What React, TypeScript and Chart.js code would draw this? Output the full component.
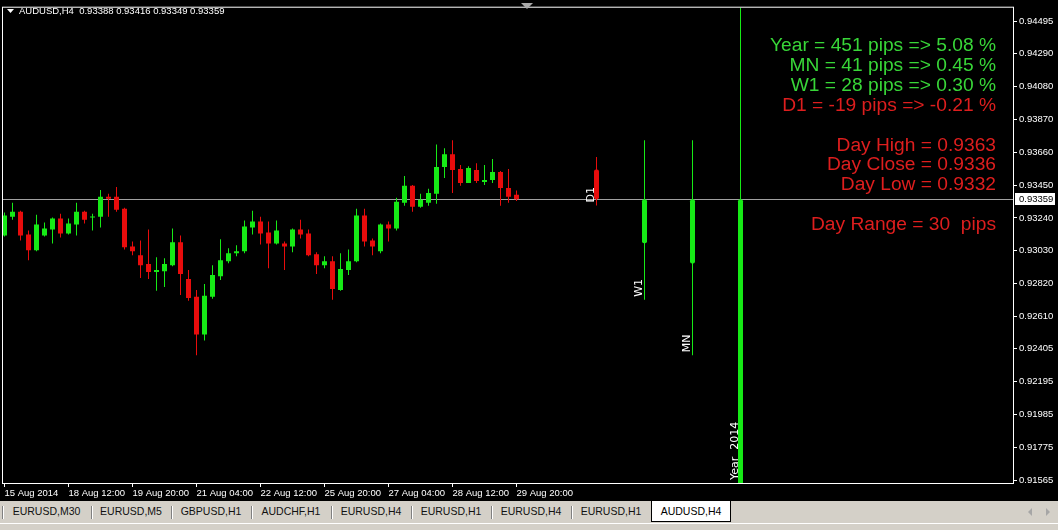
import React, { useEffect, useRef } from "react";
import { Chart, registerables } from "chart.js";

Chart.register(...registerables);

const GREEN = "rgb(22,234,22)";
const RED = "rgb(232,12,12)";
const TEXT_GREEN = "rgb(56,214,56)";
const TEXT_RED = "rgb(222,30,30)";

// AUDUSD H4 bars, 15 Aug 04:00 .. 29 Aug 20:00
const opens = [
  0.93128, 0.93248, 0.9328, 0.93134, 0.93033, 0.93128, 0.93166, 0.93236, 0.93141, 0.93198,
  0.9328, 0.93242, 0.93248, 0.93375, 0.93375, 0.93299, 0.93058, 0.93001, 0.92945, 0.92894,
  0.929, 0.92938, 0.93084, 0.9285, 0.92736, 0.92495, 0.92736, 0.92868, 0.92963, 0.93014,
  0.93027, 0.93179, 0.93217, 0.93147, 0.93077, 0.93077, 0.93058, 0.93166, 0.93141, 0.93008,
  0.92938, 0.92963, 0.9278, 0.92907, 0.92963, 0.93255, 0.93096, 0.93027, 0.93198, 0.93172,
  0.93337, 0.93445, 0.93312, 0.93337, 0.93394, 0.93565, 0.93647, 0.93552, 0.93464, 0.93546,
  0.9347, 0.93483, 0.93533, 0.93432, 0.93388,
];
const highs = [
  0.93274, 0.93337, 0.93286, 0.9316, 0.93261, 0.93211, 0.93242, 0.93267, 0.93236, 0.93337,
  0.93286, 0.93267, 0.93419, 0.93394, 0.93438, 0.93305, 0.9309, 0.93096, 0.93166, 0.92989,
  0.92982, 0.93172, 0.93128, 0.92907, 0.9278, 0.92818, 0.92938, 0.93103, 0.93046, 0.93065,
  0.93223, 0.93286, 0.93248, 0.93217, 0.93223, 0.9309, 0.93172, 0.93229, 0.93166, 0.93021,
  0.92995, 0.92995, 0.93014, 0.93039, 0.93299, 0.93299, 0.93109, 0.93204, 0.93217, 0.93369,
  0.93508, 0.93451, 0.93394, 0.93426, 0.9371, 0.93685, 0.93736, 0.93578, 0.93571, 0.9359,
  0.93578, 0.93616, 0.9354, 0.93552, 0.93416,
];
const lows = [
  0.93122, 0.93229, 0.93096, 0.9297, 0.93027, 0.93122, 0.93077, 0.93115, 0.93134, 0.93128,
  0.93204, 0.9316, 0.93179, 0.93248, 0.9328, 0.93039, 0.93001, 0.92856, 0.9285, 0.92774,
  0.92799, 0.92932, 0.92748, 0.9271, 0.92362, 0.92457, 0.92723, 0.92843, 0.92951, 0.92995,
  0.93014, 0.93134, 0.93071, 0.92919, 0.93071, 0.92907, 0.93021, 0.93109, 0.92995, 0.92881,
  0.92919, 0.92717, 0.92774, 0.92875, 0.92957, 0.93058, 0.93001, 0.93014, 0.9309, 0.9316,
  0.93318, 0.9328, 0.93305, 0.93318, 0.93331, 0.93495, 0.934, 0.93445, 0.93464, 0.93464,
  0.93451, 0.93464, 0.93318, 0.93337, 0.93349,
];
const closes = [
  0.93255, 0.9328, 0.93128, 0.93033, 0.93198, 0.93172, 0.93236, 0.93141, 0.93204, 0.9328,
  0.93229, 0.93248, 0.93375, 0.93362, 0.93293, 0.93052, 0.93027, 0.92938, 0.92894, 0.92907,
  0.92945, 0.93084, 0.92881, 0.92729, 0.92495, 0.92742, 0.92875, 0.9297, 0.93014, 0.93027,
  0.93185, 0.93217, 0.93141, 0.93077, 0.9316, 0.93058, 0.93166, 0.93134, 0.93001, 0.92938,
  0.92963, 0.92786, 0.92913, 0.92963, 0.93255, 0.9309, 0.93058, 0.93198, 0.93172, 0.93343,
  0.93445, 0.93312, 0.93356, 0.934, 0.93565, 0.93647, 0.93546, 0.93464, 0.93559, 0.93476,
  0.93483, 0.93533, 0.93432, 0.93375, 0.93359,
];

// period candles drawn by the indicator to the right of the price bars
const periodNames = ["D1", "W1", "MN", "Year  2014"];
const periodIndex = [74, 80, 86, 92];
const periodOpen = [0.93549, 0.93079, 0.92949, 0.88849];
const periodHigh = [0.9363, 0.93736, 0.93736, 0.9505];
const periodLow = [0.9332, 0.92717, 0.92362, 0.866];
const periodClose = [0.93359, 0.93359, 0.93359, 0.93359];

const timeTickIndex = [0, 8, 16, 24, 32, 40, 48, 56, 64];
const timeTickLabels = [
  "15 Aug 2014", "18 Aug 12:00", "19 Aug 20:00", "21 Aug 04:00", "22 Aug 12:00",
  "25 Aug 20:00", "27 Aug 04:00", "28 Aug 12:00", "29 Aug 20:00",
];
const priceTicks = [
  0.94495, 0.9429, 0.9408, 0.9387, 0.9366, 0.9345, 0.9324, 0.9303, 0.9282, 0.9261,
  0.92405, 0.92195, 0.91985, 0.91775, 0.91565,
];

const infoLines = [
  "Year = 451 pips => 5.08 %", "MN = 41 pips => 0.45 %", "W1 = 28 pips => 0.30 %",
  "D1 = -19 pips => -0.21 %", "", "Day High = 0.9363", "Day Close = 0.9336",
  "Day Low = 0.9332", "", "Day Range = 30  pips",
];
const infoColors = [
  TEXT_GREEN, TEXT_GREEN, TEXT_GREEN, TEXT_RED, TEXT_RED, TEXT_RED, TEXT_RED,
  TEXT_RED, TEXT_RED, TEXT_RED,
];

const tabNames = [
  "EURUSD,M30", "EURUSD,M5", "GBPUSD,H1", "AUDCHF,H1", "EURUSD,H4", "EURUSD,H1",
  "EURUSD,H4", "EURUSD,H1",
];
const activeTab = "AUDUSD,H4";

const X_MIN = -0.1875;
const X_MAX = 126.0625;
const Y_MIN = 0.91546;
const Y_MAX = 0.945836;
const AXIS_FONT = "'Liberation Sans', Arial, sans-serif";

const candleColor = (o: number[], c: number[]) =>
  o.map((v, i) => (c[i] >= v ? GREEN : RED));

const overlay = {
  id: "overlay",
  beforeDatasetsDraw(chart: any) {
    const { ctx, chartArea: a, scales } = chart;
    const bid = closes[closes.length - 1];
    const py = Math.round(scales.y.getPixelForValue(bid)) + 0.5;
    ctx.save();
    ctx.strokeStyle = "#a0a0a0";
    ctx.lineWidth = 1;
    ctx.beginPath();
    ctx.moveTo(a.left, py);
    ctx.lineTo(a.right, py);
    ctx.stroke();
    ctx.restore();
  },
  afterDatasetsDraw(chart: any) {
    const { ctx, chartArea: a, scales } = chart;
    ctx.save();
    // period labels, written upwards next to each candle
    ctx.fillStyle = "#fff";
    ctx.font = "11px 'DejaVu Sans', sans-serif";
    ctx.textAlign = "left";
    ctx.textBaseline = "alphabetic";
    periodNames.forEach((name, i) => {
      const cx = scales.x.getPixelForValue(periodIndex[i]);
      const ly = Math.min(scales.y.getPixelForValue(periodLow[i]) - 3, a.bottom - 3);
      ctx.save();
      ctx.translate(cx - 2.5, ly);
      ctx.rotate(-Math.PI / 2);
      ctx.fillText(name, 0, 0);
      ctx.restore();
    });
    // statistics panel
    ctx.font = "19.2px 'Liberation Sans', Arial, sans-serif";
    ctx.textAlign = "right";
    infoLines.forEach((line, i) => {
      if (!line) return;
      ctx.fillStyle = infoColors[i];
      ctx.fillText(line, 996, 51 + i * 19.9);
    });
    ctx.restore();
  },
  afterDraw(chart: any) {
    const { ctx, chartArea: a, scales } = chart;
    ctx.save();
    ctx.strokeStyle = "#fff";
    ctx.lineWidth = 1;
    ctx.strokeRect(a.left - 0.5, a.top - 0.5, a.right - a.left + 1, a.bottom - a.top + 1);

    // chart shift marker
    ctx.fillStyle = "#a8a8a8";
    ctx.beginPath();
    ctx.moveTo(521, 3);
    ctx.lineTo(533, 3);
    ctx.lineTo(527, 9);
    ctx.closePath();
    ctx.fill();

    // header
    const last = closes.length - 1;
    ctx.fillStyle = "#fff";
    ctx.beginPath();
    ctx.moveTo(7, 9);
    ctx.lineTo(14, 9);
    ctx.lineTo(10.5, 13);
    ctx.closePath();
    ctx.fill();
    ctx.font = `9.5px ${AXIS_FONT}`;
    ctx.textAlign = "left";
    ctx.textBaseline = "alphabetic";
    ctx.fillText(
      `AUDUSD,H4  ${opens[last].toFixed(5)} ${highs[last].toFixed(5)} ${lows[last].toFixed(5)} ${closes[last].toFixed(5)}`,
      19,
      14
    );

    // current price box on the price axis
    const py = Math.round(scales.y.getPixelForValue(closes[last]));
    ctx.fillStyle = "#fff";
    ctx.fillRect(a.right + 2, py - 6, 40, 12);
    ctx.fillStyle = "#000";
    ctx.textBaseline = "middle";
    ctx.fillText(closes[last].toFixed(5), a.right + 6, py + 0.5);
    ctx.restore();
  },
};

export default function App() {
  const canvasRef = useRef<HTMLCanvasElement>(null);
  const chartRef = useRef<Chart>();

  useEffect(() => {
    if (!canvasRef.current) return;
    if (chartRef.current) chartRef.current.destroy();

    const idx = opens.map((_, i) => i);
    const candleColors = candleColor(opens, closes);
    const periodColors = candleColor(periodOpen, periodClose);
    const barBase = {
      grouped: false,
      categoryPercentage: 1,
      barPercentage: 1,
      inflateAmount: 0,
      borderWidth: 0,
    };

    chartRef.current = new Chart(canvasRef.current, {
      type: "bar",
      data: {
        datasets: [
          {
            ...barBase,
            order: 0,
            data: idx.map((i) => ({ x: i, y: [opens[i], closes[i]] })) as any,
            backgroundColor: candleColors,
            barThickness: 5,
            maxBarThickness: 5,
            minBarLength: 1,
          },
          {
            ...barBase,
            order: 1,
            data: idx.map((i) => ({ x: i, y: [lows[i], highs[i]] })) as any,
            backgroundColor: candleColors,
            barThickness: 1,
            maxBarThickness: 1,
          },
          {
            ...barBase,
            order: 0,
            data: periodIndex.map((p, i) => ({ x: p, y: [periodOpen[i], periodClose[i]] })) as any,
            backgroundColor: periodColors,
            barThickness: 5,
            maxBarThickness: 5,
            borderRadius: 2,
            borderSkipped: false,
          },
          {
            ...barBase,
            order: 1,
            data: periodIndex.map((p, i) => ({ x: p, y: [periodLow[i], periodHigh[i]] })) as any,
            backgroundColor: periodColors,
            barThickness: 1,
            maxBarThickness: 1,
          },
        ],
      },
      options: {
        animation: false,
        responsive: false,
        events: [],
        layout: { padding: { left: 3, top: 3, right: 0, bottom: 0 } },
        plugins: { legend: { display: false }, tooltip: { enabled: false } },
        scales: {
          x: {
            type: "linear",
            min: X_MIN,
            max: X_MAX,
            offset: false,
            afterBuildTicks: (s: any) => {
              s.ticks = timeTickIndex.map((value) => ({ value }));
            },
            afterFit: (s: any) => {
              s.height = 18;
            },
            border: { display: false },
            grid: {
              display: true,
              drawOnChartArea: false,
              drawTicks: true,
              tickLength: 4,
              color: "#fff",
              offset: false,
            },
            ticks: {
              color: "#fff",
              font: { family: AXIS_FONT, size: 9.5 },
              align: "start",
              maxRotation: 0,
              autoSkip: false,
              padding: 1,
              callback: (v: any) => {
                const k = timeTickIndex.indexOf(Number(v));
                return k >= 0 ? timeTickLabels[k] : "";
              },
            },
          },
          y: {
            type: "linear",
            position: "right",
            min: Y_MIN,
            max: Y_MAX,
            afterBuildTicks: (s: any) => {
              s.ticks = priceTicks.map((value) => ({ value }));
            },
            afterFit: (s: any) => {
              s.width = 45;
            },
            border: { display: false },
            grid: {
              display: true,
              drawOnChartArea: false,
              drawTicks: true,
              tickLength: 4,
              color: "#fff",
            },
            ticks: {
              color: "#fff",
              font: { family: AXIS_FONT, size: 9.5 },
              padding: 2,
              autoSkip: false,
              callback: (v: any) => Number(v).toFixed(5),
            },
          },
        },
      } as any,
      plugins: [overlay],
    });

    return () => {
      if (chartRef.current) {
        chartRef.current.destroy();
        chartRef.current = undefined;
      }
    };
  }, []);

  return (
    <div style={styles.page}>
      <canvas ref={canvasRef} width={1058} height={501} style={{ display: "block" }} />
      <div style={styles.tabBar}>
        {tabNames.map((name, i) => (
          <div key={i} style={{ ...styles.tab, width: i === 0 ? 89 : 80 }}>
            <span style={styles.sepDark} />
            <span style={styles.sepLight} />
            {name}
          </div>
        ))}
        <div style={styles.activeTab}>{activeTab}</div>
      </div>
      <span style={{ ...styles.arrow, left: 1028, borderRight: "4px solid #a6a6a6" }} />
      <span style={{ ...styles.arrow, left: 1046, borderLeft: "4px solid #a6a6a6" }} />
      <div style={styles.statusBar} />
    </div>
  );
}

const styles: Record<string, React.CSSProperties> = {
  page: {
    position: "fixed",
    left: 0,
    top: 0,
    width: 1058,
    height: 530,
    background: "#000",
    overflow: "hidden",
  },
  tabBar: {
    position: "absolute",
    left: 0,
    top: 501,
    width: 1058,
    height: 22,
    paddingLeft: 2,
    boxSizing: "border-box",
    display: "flex",
    background: "#d4d0c8",
    fontFamily: AXIS_FONT,
    fontSize: 10.5,
    color: "#111",
  },
  tab: {
    position: "relative",
    height: 21,
    lineHeight: "21px",
    textAlign: "center",
    whiteSpace: "nowrap",
  },
  sepDark: {
    position: "absolute",
    left: 0,
    top: 5,
    width: 1,
    height: 13,
    background: "#808080",
  },
  sepLight: {
    position: "absolute",
    left: 1,
    top: 5,
    width: 1,
    height: 13,
    background: "#fff",
  },
  activeTab: {
    width: 80,
    height: 21,
    lineHeight: "20px",
    textAlign: "center",
    background: "#fff",
    border: "1px solid #000",
    borderTop: "none",
    boxSizing: "border-box",
    color: "#000",
  },
  arrow: {
    position: "absolute",
    top: 508,
    width: 0,
    height: 0,
    borderTop: "4px solid transparent",
    borderBottom: "4px solid transparent",
  },
  statusBar: {
    position: "absolute",
    left: 0,
    top: 523,
    width: 1058,
    height: 7,
    background: "#d4d0c8",
    borderTop: "1px solid #fff",
    boxSizing: "border-box",
  },
};
